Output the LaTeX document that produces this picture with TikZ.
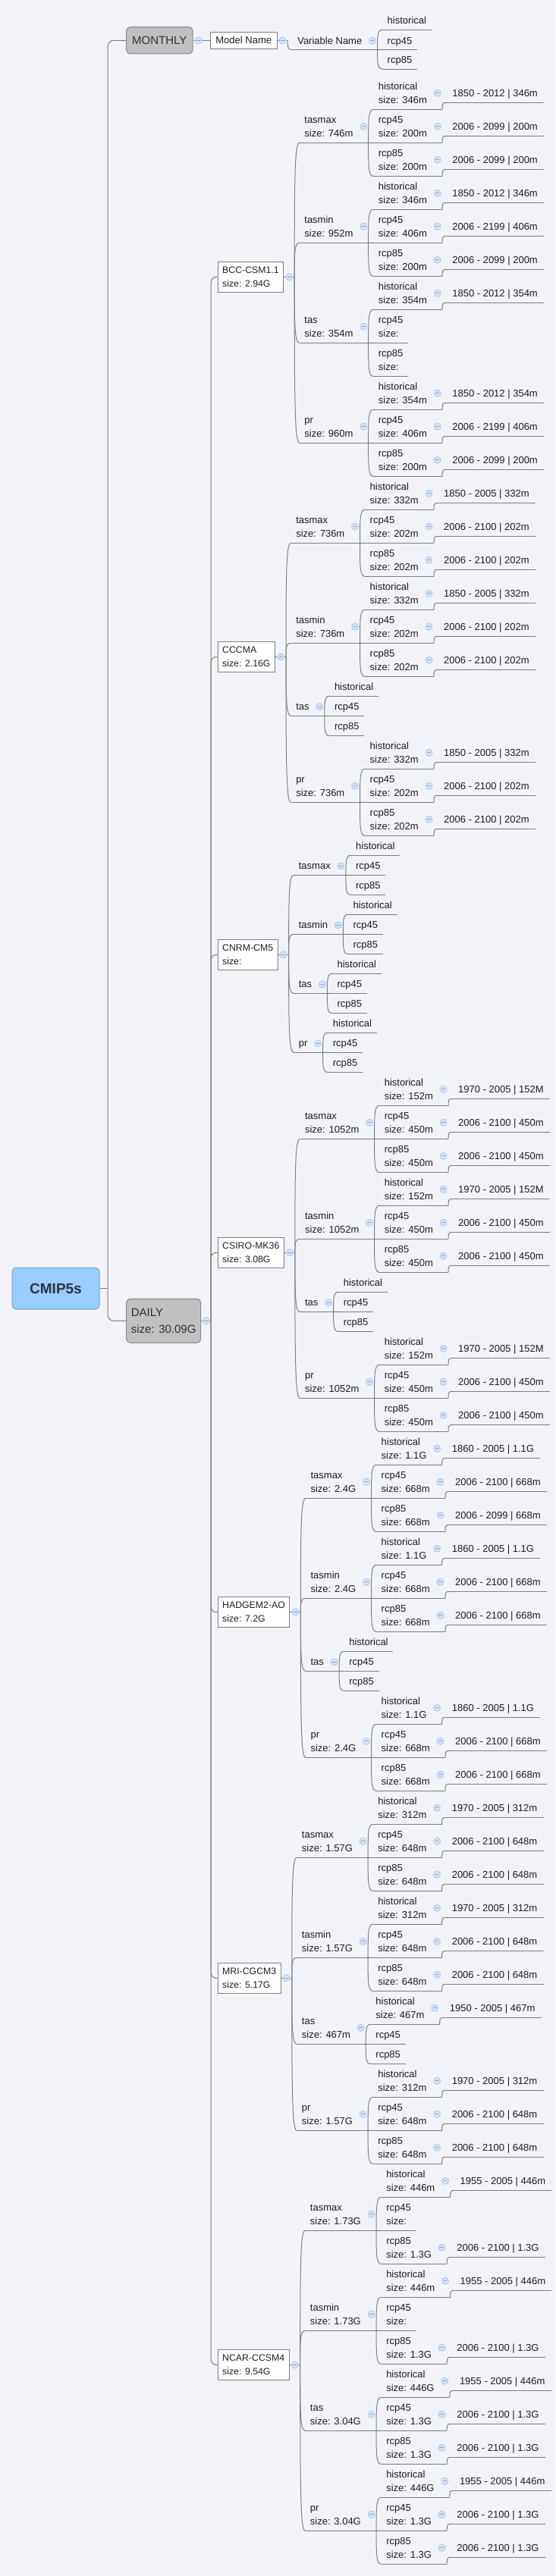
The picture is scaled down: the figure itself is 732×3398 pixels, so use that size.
\documentclass[tikz,border=0pt]{standalone}
\usepackage{fontspec}
\setmainfont{Liberation Sans}
\usetikzlibrary{calc}
\definecolor{bg}{HTML}{F2F3F8}
\definecolor{lc}{HTML}{7F7F7F}
\definecolor{txt}{HTML}{1E1E1E}
\definecolor{gf}{HTML}{C0C0C0}
\definecolor{gb}{HTML}{8A8A8A}
\definecolor{gt}{HTML}{333333}
\definecolor{rf}{HTML}{99CCFF}
\definecolor{rb}{HTML}{7FA0C8}
\definecolor{rt}{HTML}{2E3440}
\definecolor{mf}{HTML}{D8E5F8}
\definecolor{mb}{HTML}{A9C2EA}
\definecolor{mc}{HTML}{7F9FD6}
\newcommand\two[2]{\begin{tabular}[b]{@{}l@{}}#1\\#2\end{tabular}}
\tikzset{
  lnk/.style={draw=lc, line width=1pt},
  conn/.style={to path={.. controls ($(\tikztostart)!0.7!(\tikztostart |- \tikztotarget)$) and (\tikztostart |- \tikztotarget) .. (\tikztotarget)}},
  uline/.style={anchor=south west, inner xsep=6.5pt, inner ysep=4.5pt, text depth=3pt, font=\fontsize{13}{18}\selectfont, text=txt},
  dnode/.style={uline, inner xsep=8pt},
  mbox/.style={draw=lc, fill=white, line width=1pt, anchor=west, align=left, inner xsep=6pt, minimum height=40pt, font=\fontsize{12.3}{18}\selectfont, text=txt},
  wbox/.style={draw=lc, fill=white, line width=1pt, anchor=west, inner xsep=7pt, minimum height=22pt, font=\fontsize{13}{18}\selectfont, text=txt},
  gbox/.style={draw=gb, fill=gf, line width=1pt, rounded corners=5pt, anchor=west, align=left, inner xsep=6pt, font=\fontsize{15}{21.6}\selectfont, text=gt},
  rootbox/.style={draw=rb, fill=rf, line width=1pt, rounded corners=6pt, minimum width=115pt, minimum height=55pt, text depth=0pt, font=\fontsize{19}{22}\selectfont\bfseries, text=rt},
  mcirc/.style={circle, draw=mb, fill=mf, line width=0.8pt, inner sep=0pt, minimum size=9pt,
    path picture={\draw[mc, line width=0.9pt] ([xshift=-2.4pt]path picture bounding box.center) -- ([xshift=2.4pt]path picture bounding box.center);}},
}
% leaf: name, parent branch, underline y, text
\newcommand\Leaf[4]{%
  \coordinate (#1y) at (0,#3);
  \coordinate (#1s) at ([xshift=6.5pt]#2);
  \node[uline] (#1) at (#1s |- #1y) {#4};
  \draw[lnk] (#1.south west) -- (#1.south east);
  \draw[lnk] (#2) to[conn] (#1.south west);
}
% parent: name, parent branch, underline y, minus yshift, text
\newcommand\Par[5]{%
  \coordinate (#1y) at (0,#3);
  \coordinate (#1s) at ([xshift=6.5pt]#2);
  \node[uline] (#1) at (#1s |- #1y) {#5};
  \coordinate (#1br) at ([xshift=13.5pt]#1.south east);
  \draw[lnk] (#1.south west) -- (#1br);
  \draw[lnk] (#2) to[conn] (#1.south west);
  \node[mcirc] (#1m) at ([xshift=7pt,yshift=#4pt]#1.south east) {};
}
% date: name, parent branch, underline y, text
\newcommand\Date[4]{%
  \coordinate (#1y) at (0,#3);
  \coordinate (#1s) at ([xshift=5pt]#2);
  \node[dnode] (#1) at (#1s |- #1y) {#4};
  \draw[lnk] (#1.south west) -- (#1.south east);
  \draw[lnk] (#2) to[conn] (#1.south west);
}
% scenario with date: name, parent branch, underline y, label, size, date
\newcommand\Scn[6]{%
  \Par{#1}{#2}{#3}{21.5}{\two{#4}{size: #5}}%
  \Date{#1d}{#1br}{#3-9}{#6}%
}
% model box: name, mid y, line1, line2
\newcommand\Model[4]{%
  \coordinate (#1y) at (0,#2);
  \node[mbox, xshift=8.5pt] (#1) at (Dbr |- #1y) {#3\\#4};
  \coordinate (#1br) at ([xshift=14pt]#1.east);
  \draw[lnk] (#1.east) -- (#1br);
  \draw[lnk, rounded corners=7pt] (Dbr) |- (#1.west);
  \node[mcirc] (#1m) at ([xshift=7pt]#1.east) {};
}
\begin{document}
\begin{tikzpicture}[x=1pt,y=-1pt]
\fill[bg] (0,0) rectangle (732,3398);
\useasboundingbox (0,0) rectangle (732,3398);
% root
\node[rootbox] (root) at (73.5,1699.6) {CMIP5s};
\coordinate (rootbr) at ([xshift=10.5pt]root.east);
\coordinate (MOy) at (0,53.3);
\coordinate (DAy) at (0,1742.3);
\node[gbox, minimum width=87.3pt, minimum height=35.3pt, xshift=24.2pt] (monthly) at (rootbr |- MOy) {MONTHLY};
\node[gbox, minimum width=98pt, minimum height=58pt, xshift=24.2pt] (daily) at (rootbr |- DAy) {DAILY\\size: 30.09G};
\draw[lnk] (root.east) -- (rootbr);
\draw[lnk, rounded corners=8pt] (rootbr) |- (monthly.west);
\draw[lnk, rounded corners=8pt] (rootbr) |- (daily.west);
% monthly
\node[wbox, xshift=22.4pt] (modn) at (monthly.east) {Model Name};
\draw[lnk] (monthly.east) -- (modn.west);
\node[mcirc] (monm) at ([xshift=7pt]monthly.east) {};
\coordinate (modnbr) at ([xshift=13.5pt]modn.east);
\draw[lnk] (modn.east) -- (modnbr);
\node[mcirc] (modnm) at ([xshift=7pt]modn.east) {};
\Par{varn}{modnbr}{65.7}{12}{Variable Name}
\Leaf{vh}{varnbr}{39.3}{historical}
\Leaf{va}{varnbr}{65.7}{rcp45}
\Leaf{vb}{varnbr}{91}{rcp85}
% daily
\coordinate (Dbr) at ([xshift=13pt]daily.east);
\draw[lnk] (daily.east) -- (Dbr);
\node[mcirc] (dailym) at ([xshift=6.5pt]daily.east) {};
% BCC
\Model{B}{365.3}{BCC-CSM1.1}{size: 2.94G}
\Par{BX}{Bbr}{188.3}{21.5}{\two{tasmax}{size: 746m}}
\Scn{BXh}{BXbr}{144.3}{historical}{346m}{1850 - 2012 | 346m}
\Scn{BXa}{BXbr}{188.3}{rcp45}{200m}{2006 - 2099 | 200m}
\Scn{BXb}{BXbr}{232.3}{rcp85}{200m}{2006 - 2099 | 200m}
\Par{BN}{Bbr}{320.3}{21.5}{\two{tasmin}{size: 952m}}
\Scn{BNh}{BNbr}{276.3}{historical}{346m}{1850 - 2012 | 346m}
\Scn{BNa}{BNbr}{320.3}{rcp45}{406m}{2006 - 2199 | 406m}
\Scn{BNb}{BNbr}{364.3}{rcp85}{200m}{2006 - 2099 | 200m}
\Par{BT}{Bbr}{452.3}{21.5}{\two{tas}{size: 354m}}
\Scn{BTh}{BTbr}{408.3}{historical}{354m}{1850 - 2012 | 354m}
\Leaf{BTa}{BTbr}{452.3}{\two{rcp45}{size:}}
\Leaf{BTb}{BTbr}{496.3}{\two{rcp85}{size:}}
\Par{BP}{Bbr}{584.3}{21.5}{\two{pr}{size: 960m}}
\Scn{BPh}{BPbr}{540.3}{historical}{354m}{1850 - 2012 | 354m}
\Scn{BPa}{BPbr}{584.3}{rcp45}{406m}{2006 - 2199 | 406m}
\Scn{BPb}{BPbr}{628.3}{rcp85}{200m}{2006 - 2099 | 200m}
% CCCMA
\Model{C}{866.5}{CCCMA}{size: 2.16G}
\Par{CX}{Cbr}{716.3}{21.5}{\two{tasmax}{size: 736m}}
\Scn{CXh}{CXbr}{672.3}{historical}{332m}{1850 - 2005 | 332m}
\Scn{CXa}{CXbr}{716.3}{rcp45}{202m}{2006 - 2100 | 202m}
\Scn{CXb}{CXbr}{760.3}{rcp85}{202m}{2006 - 2100 | 202m}
\Par{CN}{Cbr}{848.3}{21.5}{\two{tasmin}{size: 736m}}
\Scn{CNh}{CNbr}{804.3}{historical}{332m}{1850 - 2005 | 332m}
\Scn{CNa}{CNbr}{848.3}{rcp45}{202m}{2006 - 2100 | 202m}
\Scn{CNb}{CNbr}{892.3}{rcp85}{202m}{2006 - 2100 | 202m}
\Par{CT}{Cbr}{944.3}{12}{tas}
\Leaf{CTh}{CTbr}{918.3}{historical}
\Leaf{CTa}{CTbr}{944.3}{rcp45}
\Leaf{CTb}{CTbr}{970.3}{rcp85}
\Par{CP}{Cbr}{1058.3}{21.5}{\two{pr}{size: 736m}}
\Scn{CPh}{CPbr}{1014.3}{historical}{332m}{1850 - 2005 | 332m}
\Scn{CPa}{CPbr}{1058.3}{rcp45}{202m}{2006 - 2100 | 202m}
\Scn{CPb}{CPbr}{1102.3}{rcp85}{202m}{2006 - 2100 | 202m}
% CNRM
\Model{R}{1259.3}{CNRM-CM5}{size:}
\Par{RX}{Rbr}{1154.3}{12}{tasmax}
\Leaf{RXh}{RXbr}{1128.3}{historical}
\Leaf{RXa}{RXbr}{1154.3}{rcp45}
\Leaf{RXb}{RXbr}{1180.3}{rcp85}
\Par{RN}{Rbr}{1232.3}{12}{tasmin}
\Leaf{RNh}{RNbr}{1206.3}{historical}
\Leaf{RNa}{RNbr}{1232.3}{rcp45}
\Leaf{RNb}{RNbr}{1258.3}{rcp85}
\Par{RT}{Rbr}{1310.3}{12}{tas}
\Leaf{RTh}{RTbr}{1284.3}{historical}
\Leaf{RTa}{RTbr}{1310.3}{rcp45}
\Leaf{RTb}{RTbr}{1336.3}{rcp85}
\Par{RP}{Rbr}{1388.3}{12}{pr}
\Leaf{RPh}{RPbr}{1362.3}{historical}
\Leaf{RPa}{RPbr}{1388.3}{rcp45}
\Leaf{RPb}{RPbr}{1414.3}{rcp85}
% CSIRO
\Model{S}{1652.3}{CSIRO-MK36}{size: 3.08G}
\Par{SX}{Sbr}{1502.3}{21.5}{\two{tasmax}{size: 1052m}}
\Scn{SXh}{SXbr}{1458.3}{historical}{152m}{1970 - 2005 | 152M}
\Scn{SXa}{SXbr}{1502.3}{rcp45}{450m}{2006 - 2100 | 450m}
\Scn{SXb}{SXbr}{1546.3}{rcp85}{450m}{2006 - 2100 | 450m}
\Par{SN}{Sbr}{1634.3}{21.5}{\two{tasmin}{size: 1052m}}
\Scn{SNh}{SNbr}{1590.3}{historical}{152m}{1970 - 2005 | 152M}
\Scn{SNa}{SNbr}{1634.3}{rcp45}{450m}{2006 - 2100 | 450m}
\Scn{SNb}{SNbr}{1678.3}{rcp85}{450m}{2006 - 2100 | 450m}
\Par{ST}{Sbr}{1730.3}{12}{tas}
\Leaf{STh}{STbr}{1704.3}{historical}
\Leaf{STa}{STbr}{1730.3}{rcp45}
\Leaf{STb}{STbr}{1756.3}{rcp85}
\Par{SP}{Sbr}{1844.3}{21.5}{\two{pr}{size: 1052m}}
\Scn{SPh}{SPbr}{1800.3}{historical}{152m}{1970 - 2005 | 152M}
\Scn{SPa}{SPbr}{1844.3}{rcp45}{450m}{2006 - 2100 | 450m}
\Scn{SPb}{SPbr}{1888.3}{rcp85}{450m}{2006 - 2100 | 450m}
% HADGEM
\Model{H}{2126.7}{HADGEM2-AO}{size: 7.2G}
\Par{HX}{Hbr}{1976.3}{21.5}{\two{tasmax}{size: 2.4G}}
\Scn{HXh}{HXbr}{1932.3}{historical}{1.1G}{1860 - 2005 | 1.1G}
\Scn{HXa}{HXbr}{1976.3}{rcp45}{668m}{2006 - 2100 | 668m}
\Scn{HXb}{HXbr}{2020.3}{rcp85}{668m}{2006 - 2099 | 668m}
\Par{HN}{Hbr}{2108.3}{21.5}{\two{tasmin}{size: 2.4G}}
\Scn{HNh}{HNbr}{2064.3}{historical}{1.1G}{1860 - 2005 | 1.1G}
\Scn{HNa}{HNbr}{2108.3}{rcp45}{668m}{2006 - 2100 | 668m}
\Scn{HNb}{HNbr}{2152.3}{rcp85}{668m}{2006 - 2100 | 668m}
\Par{HT}{Hbr}{2204.3}{12}{tas}
\Leaf{HTh}{HTbr}{2178.3}{historical}
\Leaf{HTa}{HTbr}{2204.3}{rcp45}
\Leaf{HTb}{HTbr}{2230.3}{rcp85}
\Par{HP}{Hbr}{2318.3}{21.5}{\two{pr}{size: 2.4G}}
\Scn{HPh}{HPbr}{2274.3}{historical}{1.1G}{1860 - 2005 | 1.1G}
\Scn{HPa}{HPbr}{2318.3}{rcp45}{668m}{2006 - 2100 | 668m}
\Scn{HPb}{HPbr}{2362.3}{rcp85}{668m}{2006 - 2100 | 668m}
% MRI
\Model{G}{2609.3}{MRI-CGCM3}{size: 5.17G}
\Par{GX}{Gbr}{2450.3}{21.5}{\two{tasmax}{size: 1.57G}}
\Scn{GXh}{GXbr}{2406.3}{historical}{312m}{1970 - 2005 | 312m}
\Scn{GXa}{GXbr}{2450.3}{rcp45}{648m}{2006 - 2100 | 648m}
\Scn{GXb}{GXbr}{2494.3}{rcp85}{648m}{2006 - 2100 | 648m}
\Par{GN}{Gbr}{2582.3}{21.5}{\two{tasmin}{size: 1.57G}}
\Scn{GNh}{GNbr}{2538.3}{historical}{312m}{1970 - 2005 | 312m}
\Scn{GNa}{GNbr}{2582.3}{rcp45}{648m}{2006 - 2100 | 648m}
\Scn{GNb}{GNbr}{2626.3}{rcp85}{648m}{2006 - 2100 | 648m}
\Par{GT}{Gbr}{2696.3}{21.5}{\two{tas}{size: 467m}}
\Scn{GTh}{GTbr}{2670.3}{historical}{467m}{1950 - 2005 | 467m}
\Leaf{GTa}{GTbr}{2696.3}{rcp45}
\Leaf{GTb}{GTbr}{2722.3}{rcp85}
\Par{GP}{Gbr}{2810.3}{21.5}{\two{pr}{size: 1.57G}}
\Scn{GPh}{GPbr}{2766.3}{historical}{312m}{1970 - 2005 | 312m}
\Scn{GPa}{GPbr}{2810.3}{rcp45}{648m}{2006 - 2100 | 648m}
\Scn{GPb}{GPbr}{2854.3}{rcp85}{648m}{2006 - 2100 | 648m}
% NCAR
\Model{N}{3119.5}{NCAR-CCSM4}{size: 9.54G}
\Par{NX}{Nbr}{2942.3}{21.5}{\two{tasmax}{size: 1.73G}}
\Scn{NXh}{NXbr}{2898.3}{historical}{446m}{1955 - 2005 | 446m}
\Leaf{NXa}{NXbr}{2942.3}{\two{rcp45}{size:}}
\Scn{NXb}{NXbr}{2986.3}{rcp85}{1.3G}{2006 - 2100 | 1.3G}
\Par{NN}{Nbr}{3074.3}{21.5}{\two{tasmin}{size: 1.73G}}
\Scn{NNh}{NNbr}{3030.3}{historical}{446m}{1955 - 2005 | 446m}
\Leaf{NNa}{NNbr}{3074.3}{\two{rcp45}{size:}}
\Scn{NNb}{NNbr}{3118.3}{rcp85}{1.3G}{2006 - 2100 | 1.3G}
\Par{NT}{Nbr}{3206.3}{21.5}{\two{tas}{size: 3.04G}}
\Scn{NTh}{NTbr}{3162.3}{historical}{446G}{1955 - 2005 | 446m}
\Scn{NTa}{NTbr}{3206.3}{rcp45}{1.3G}{2006 - 2100 | 1.3G}
\Scn{NTb}{NTbr}{3250.3}{rcp85}{1.3G}{2006 - 2100 | 1.3G}
\Par{NP}{Nbr}{3338.3}{21.5}{\two{pr}{size: 3.04G}}
\Scn{NPh}{NPbr}{3294.3}{historical}{446G}{1955 - 2005 | 446m}
\Scn{NPa}{NPbr}{3338.3}{rcp45}{1.3G}{2006 - 2100 | 1.3G}
\Scn{NPb}{NPbr}{3382.3}{rcp85}{1.3G}{2006 - 2100 | 1.3G}
\end{tikzpicture}
\end{document}
